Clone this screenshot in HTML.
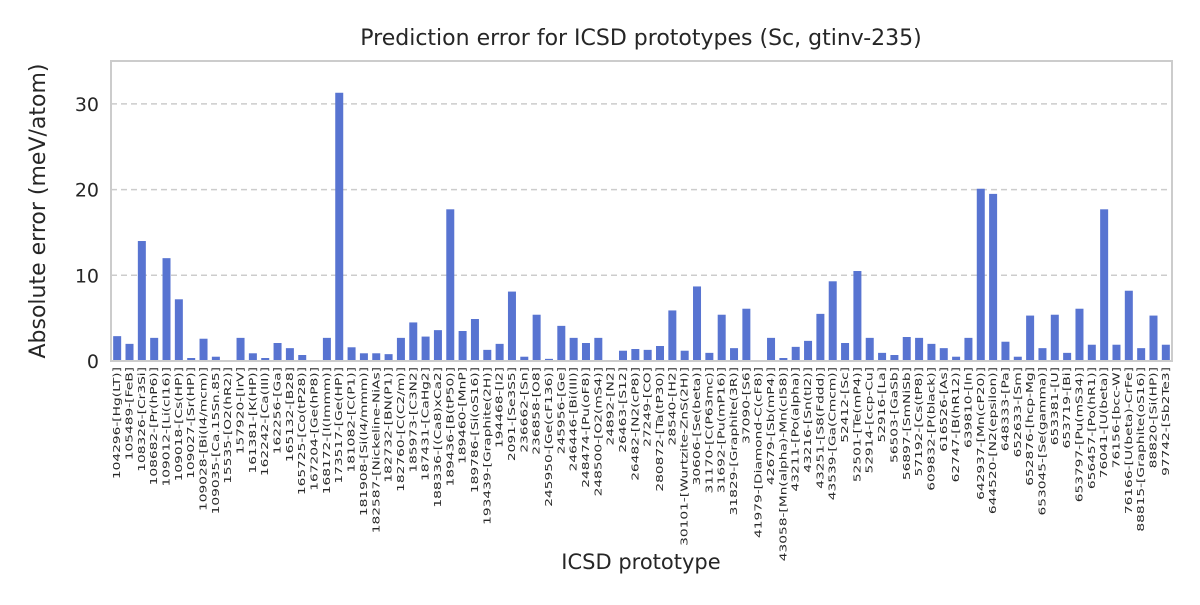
<!DOCTYPE html>
<html><head><meta charset="utf-8"><style>
body{margin:0;background:#fff;}
svg{font-family:"Liberation Sans","DejaVu Sans",sans-serif;}
</style></head><body>
<svg id="chart" width="1200" height="600">
<text x="641" y="45" text-anchor="middle" font-size="22" fill="#262626" font-family="DejaVu Sans, sans-serif">Prediction error for ICSD prototypes (Sc, gtinv-235)</text>
<g id="grid"></g><g id="bars"></g><g id="yticks"></g><g id="xticks"></g>
<rect x="111" y="61" width="1061" height="300" fill="none" stroke="#cccccc" stroke-width="2"/>
<text transform="translate(45,211) rotate(-90)" text-anchor="middle" font-size="22" fill="#262626" font-family="DejaVu Sans, sans-serif">Absolute error (meV/atom)</text>
<text x="641" y="569" text-anchor="middle" font-size="21" fill="#262626" font-family="DejaVu Sans, sans-serif">ICSD prototype</text>
</svg>
<script>
const categories=["104296-[Hg(LT)]","105489-[FeB]","108326-[Cr3Si]","108682-[Pr(hP6)]","109012-[Li(cI16)]","109018-[Cs(HP)]","109027-[Sr(HP)]","109028-[Bi(I4/mcm)]","109035-[Ca.15Sn.85]","15535-[O2(hR2)]","157920-[IrV]","161381-[K(HP)]","162242-[Ca(III)]","162256-[Ga]","165132-[B28]","165725-[Co(tP28)]","167204-[Ge(hP8)]","168172-[I(Immm)]","173517-[Ge(HP)]","181082-[C(P1)]","181908-[Si(I4/mmm)]","182587-[Nickeline-NiAs]","182732-[BN(P1)]","182760-[C(C2/m)]","185973-[C3N2]","187431-[CaHg2]","188336-[(Ca8)xCa2]","189436-[B(tP50)]","189460-[MnP]","189786-[Si(oS16)]","193439-[Graphite(2H)]","194468-[I2]","2091-[Se3S5]","236662-[Sn]","236858-[O8]","245950-[Ge(cF136)]","245956-[Ge]","246446-[Bi(III)]","248474-[Pu(oF8)]","248500-[O2(mS4)]","24892-[N2]","26463-[S12]","26482-[N2(cP8)]","27249-[CO]","280872-[Ta(tP30)]","28540-[H2]","30101-[Wurtzite-ZnS(2H)]","30606-[Se(beta)]","31170-[C(P63mc)]","31692-[Pu(mP16)]","31829-[Graphite(3R)]","37090-[S6]","41979-[Diamond-C(cF8)]","42679-[Sb(mP4)]","43058-[Mn(alpha)-Mn(cI58)]","43211-[Po(alpha)]","43216-[Sn(tI2)]","43251-[S8(Fddd)]","43539-[Ga(Cmcm)]","52412-[Sc]","52501-[Te(mP4)]","52914-[ccp-Cu]","52916-[La]","56503-[GaSb]","56897-[SmNiSb]","57192-[Cs(tP8)]","609832-[P(black)]","616526-[As]","62747-[B(hR12)]","639810-[In]","642937-[Mn(cP20)]","644520-[N2(epsilon)]","648333-[Pa]","652633-[Sm]","652876-[hcp-Mg]","653045-[Se(gamma)]","653381-[U]","653719-[Bi]","653797-[Pu(mS34)]","656457-[Po(hR1)]","76041-[U(beta)]","76156-[bcc-W]","76166-[U(beta)-CrFe]","88815-[Graphite(oS16)]","88820-[Si(HP)]","97742-[Sb2Te3]"];
const values=[2.9,2.0,14.0,2.7,12.0,7.2,0.35,2.6,0.5,0,2.7,0.9,0.35,2.1,1.5,0.7,0,2.7,31.3,1.6,0.9,0.9,0.8,2.7,4.5,2.85,3.6,17.7,3.5,4.9,1.3,2.0,8.1,0.5,5.4,0.25,4.1,2.7,2.1,2.7,0.1,1.2,1.4,1.3,1.75,5.9,1.2,8.7,0.95,5.4,1.5,6.1,0,2.7,0.35,1.65,2.35,5.5,9.3,2.1,10.5,2.7,0.95,0.7,2.8,2.7,2.0,1.5,0.5,2.7,20.1,19.5,2.25,0.5,5.3,1.5,5.4,0.95,6.1,1.9,17.7,1.9,8.2,1.5,5.3,1.9];
const yTicks=[0,10,20,30];
const NS="http://www.w3.org/2000/svg";
const x0=111,x1=1172,yBase=361,pxPerUnit=8.57;
const step=(x1-x0)/categories.length;
const xc=i=>x0+(i+0.5)*step;
const yv=v=>yBase-v*pxPerUnit;
function mk(t,a){const e=document.createElementNS(NS,t);for(const k in a)e.setAttribute(k,a[k]);return e;}
const grid=document.getElementById('grid'),yt=document.getElementById('yticks');
yTicks.forEach(v=>{
  if(v>0){const l=mk('line',{x1:x0,x2:x1,y1:yv(v),y2:yv(v),stroke:'#cccccc','stroke-width':1.5,'stroke-dasharray':'6,4'});
  
  
  grid.appendChild(l);}
  const t=mk('text',{x:x0-12,y:yv(v)+7,'text-anchor':'end','font-size':19,fill:'#262626','font-family':'DejaVu Sans, sans-serif'});
  t.textContent=v;
  
  
  yt.appendChild(t);
});
const bars=document.getElementById('bars'),xt=document.getElementById('xticks');
const bw=8;
categories.forEach((c,i)=>{
  const v=values[i];
  const r=mk('rect',{x:xc(i)-bw/2,y:yv(v),width:bw,height:v*pxPerUnit,fill:'#5874d1'});
  
  
  bars.appendChild(r);
  const t=mk('text',{transform:`translate(${xc(i)+3},367) rotate(-90) scale(1.48,1)`,'text-anchor':'end','font-size':9.3,fill:'#262626','font-family':'DejaVu Sans, sans-serif'});
  t.textContent=c;
  
  
  xt.appendChild(t);
});
</script>
</body></html>
